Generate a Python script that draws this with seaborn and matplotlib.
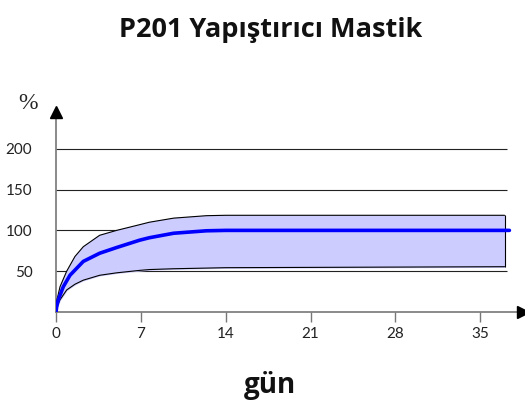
import numpy as np
import pandas as pd
import seaborn as sns
import matplotlib.pyplot as plt

# values
band_days = [0, 0.08, 0.33, 0.88, 1.56, 2.25, 3.6, 5, 6.9, 7.7, 9.7, 12.4, 14, 37]
upper_pct = [0, 15, 31, 50, 68, 80, 94, 100, 107, 110, 115, 118, 118.5, 118.5]
lower_pct = [0, 7, 15, 27, 34, 39, 45, 48, 51, 52, 53, 53.8, 54.3, 55.5]

mean_days = [0, 0.05, 0.19, 0.6, 1.15, 2.25, 3.6, 5, 6.9, 7.7, 9.7, 12.4, 14, 37.4]
mean_pct = [0, 6, 15, 31, 45, 62, 72, 79, 88, 91, 96.5, 99.5, 100, 100]

x_ticks = [0, 7, 14, 21, 28, 35]
y_ticks = [50, 100, 150, 200]

sns.set_style("white")
plt.rcParams['font.family'] = ['Lato', 'DejaVu Sans']

fig = plt.figure(figsize=(5.25, 4.04), dpi=100)
ax = fig.add_axes([0.1067, 0.2277, 0.889, 0.495])

band = pd.DataFrame({"day": band_days, "upper": upper_pct, "lower": lower_pct})
mean = pd.DataFrame({"day": mean_days, "pct": mean_pct})

ax.hlines(y_ticks, 0, 37.2, color="#222222", lw=0.8, zorder=1)

ax.fill_between(band["day"], band["lower"], band["upper"], color="#ccccff", zorder=2)
sns.lineplot(data=band, x="day", y="upper", ax=ax, color="black", lw=0.8, sort=False, zorder=3)
sns.lineplot(data=band, x="day", y="lower", ax=ax, color="black", lw=0.8, sort=False, zorder=3)
ax.vlines(band_days[-1], lower_pct[-1], upper_pct[-1], color="black", lw=0.8, zorder=3)
sns.lineplot(data=mean, x="day", y="pct", ax=ax, color="#0000ff", lw=2.6, sort=False, zorder=4)

ax.set_xlim(0, 38.5)
ax.set_ylim(0, 245)
ax.set_xticks(x_ticks)
ax.set_yticks(y_ticks)
ax.tick_params(axis="x", direction="out", length=7, width=1, color="#777777",
               labelsize=11, labelcolor="#222222", pad=4, bottom=True)
ax.tick_params(axis="y", length=0, labelsize=11, labelcolor="#222222", pad=17)
ax.set_xlabel("")
ax.set_ylabel("")

for side in ["top", "right"]:
    ax.spines[side].set_visible(False)
for side in ["left", "bottom"]:
    ax.spines[side].set_color("#777777")
    ax.spines[side].set_linewidth(1.2)

# axis arrows
ax.plot([0], [245], marker="^", color="black", markersize=8, clip_on=False, zorder=5)
ax.plot([38.5], [0], marker=">", color="black", markersize=8, clip_on=False, zorder=5)

fig.text(0.053, 0.745, "%", fontsize=17, family="Liberation Serif", ha="center", va="center")
fig.text(0.515, 0.926, "P201 Yapıştırıcı Mastik", fontsize=19.5, fontweight="bold",
         family="Open Sans", ha="center", va="center", color="#111111")
fig.text(0.515, 0.047, "gün", fontsize=20, fontweight="bold",
         family="Open Sans", ha="center", va="center", color="#111111")

fig.savefig("out.png", dpi=100)
